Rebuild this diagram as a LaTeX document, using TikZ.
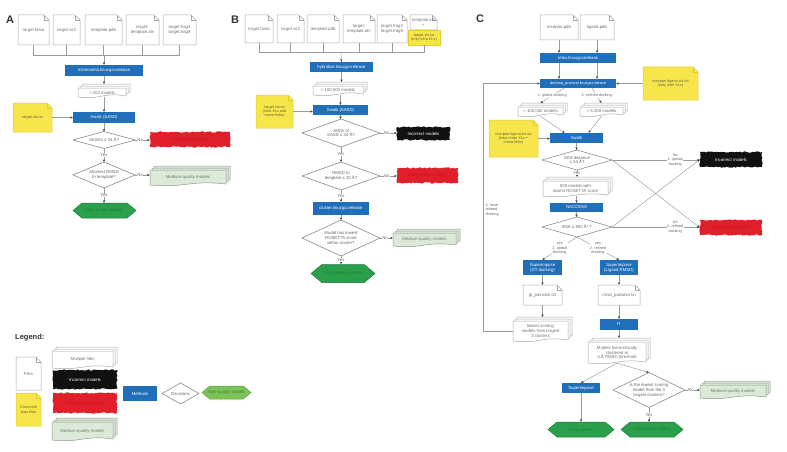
\documentclass[tikz,border=0pt]{standalone}
\usepackage{fontspec}
\setmainfont{Liberation Sans}
\usetikzlibrary{arrows.meta,decorations.pathmorphing,calc}
\definecolor{bluec}{HTML}{1F6FBA}
\definecolor{fileb}{HTML}{A8A8A8}
\definecolor{filet}{HTML}{707070}
\definecolor{yelc}{HTML}{F6E64C}
\definecolor{yelb}{HTML}{E2CC2A}
\definecolor{yelt}{HTML}{6B6230}
\definecolor{redc}{HTML}{E11F2A}
\definecolor{redt}{HTML}{C01822}
\definecolor{blackc}{HTML}{111111}
\definecolor{medc}{HTML}{DCE8D8}
\definecolor{medb}{HTML}{8E9C8A}
\definecolor{medt}{HTML}{6F7F6B}
\definecolor{hexc}{HTML}{2AA04C}
\definecolor{hexb}{HTML}{1B7A38}
\definecolor{hext}{HTML}{1E7E3A}
\definecolor{lhexc}{HTML}{7CC35A}
\definecolor{lhexb}{HTML}{5DA03E}
\definecolor{lhext}{HTML}{3F7F26}
\definecolor{decg}{HTML}{8A8A8A}
\definecolor{lineg}{HTML}{9A9A9A}
\definecolor{lblt}{HTML}{666666}
\definecolor{darkg}{HTML}{333333}
\newcommand{\fs}{\fontsize{4.3}{4.9}\selectfont}
\newcommand{\fss}{\fontsize{3.8}{4.3}\selectfont}
\tikzset{
  conn/.style={draw=lineg, line width=0.45pt},
  arr/.style={conn, -{Stealth[length=2.6pt,width=2.2pt,color=darkg]}},
  bluebox/.style={fill=bluec, text=white, inner sep=0, align=center, font=\fs},
  doctext/.style={inner sep=0, align=center, font=\fs, text=filet},
  yeltext/.style={inner sep=0, align=center, font=\fss, text=yelt},
  medtext/.style={inner sep=0, align=center, font=\fs, text=medt},
  dectext/.style={inner sep=0, align=center, font=\fs, text=lblt},
  hextext/.style={inner sep=0, align=center, font=\fs, text=hext},
  lbl/.style={inner sep=0.4pt, align=center, font=\fs, text=lblt},
  lbls/.style={inner sep=0.4pt, align=center, font=\fss, text=lblt},
  brush/.style={decorate, decoration={random steps, segment length=1.8pt, amplitude=0.7pt}, inner sep=0, align=center, font=\fs},
  plabel/.style={font=\fontsize{11}{11}\selectfont\bfseries, text=darkg, inner sep=0},
  yelbox/.style={fill=yelc, draw=yelb, line width=0.5pt, inner sep=0, align=center, font=\fss, text=yelt}
}
% name, cx, cy, w, h, fill, draw, textstyle, text
\newcommand{\FileDoc}[9]{%
  \draw[line width=0.5pt, fill=#6, draw=#7] ({#2-#4/2},{#3-#5/2}) -- ({#2+#4/2-5},{#3-#5/2}) -- ({#2+#4/2},{#3-#5/2+5}) -- ({#2+#4/2},{#3+#5/2}) -- ({#2-#4/2},{#3+#5/2}) -- cycle;
  \draw[line width=0.5pt, draw=#7] ({#2+#4/2-5},{#3-#5/2}) -- ({#2+#4/2-5},{#3-#5/2+5}) -- ({#2+#4/2},{#3-#5/2+5});
  \node[#8, minimum width=#4, minimum height=#5] (#1) at (#2,#3) {#9};
}
% name, x0, y0, x1, y1, fill, draw, textstyle, text
\newcommand{\MultiDoc}[9]{%
  \foreach \dd in {4,2,0}{%
    \draw[line width=0.5pt, fill=#6, draw=#7] ({#2+\dd},{#3+4-\dd}) -- ({#4-4+\dd},{#3+4-\dd}) -- ({#4-4+\dd},{#5-\dd-1}) .. controls ({(#2+#4-4)/2+\dd},{#5-\dd-5}) and ({(#2+#4-4)/2+\dd},{#5-\dd+3}) .. ({#2+\dd},{#5-\dd}) -- cycle;
  }
  \node[#8, minimum width={#4-4-#2}, minimum height={#5-#3-4}] (#1) at ({(#2+#4-4)/2},{(#3+4+#5)/2}) {#9};
  \coordinate (#1-n) at ({(#2+#4-4)/2},#3);
}
% name, cx, cy, w, h, fill, draw, text
\newcommand{\HexNode}[8]{%
  \draw[line width=0.5pt, fill=#6, draw=#7] ({#2-#4/2},#3) -- ({#2-#4/2+#5*0.6},{#3-#5/2}) -- ({#2+#4/2-#5*0.6},{#3-#5/2}) -- ({#2+#4/2},#3) -- ({#2+#4/2-#5*0.6},{#3+#5/2}) -- ({#2-#4/2+#5*0.6},{#3+#5/2}) -- cycle;
  \node[hextext, minimum width=#4, minimum height=#5] (#1) at (#2,#3) {#8};
}
% name, cx, cy, w, h, text
\newcommand{\Decision}[6]{%
  \draw[line width=0.6pt, draw=decg, fill=white] ({#2-#4/2},#3) -- (#2,{#3-#5/2}) -- ({#2+#4/2},#3) -- (#2,{#3+#5/2}) -- cycle;
  \node[dectext] (#1) at (#2,#3) {#6};
  \coordinate (#1-n) at (#2,{#3-#5/2});
  \coordinate (#1-s) at (#2,{#3+#5/2});
  \coordinate (#1-e) at ({#2+#4/2},#3);
  \coordinate (#1-w) at ({#2-#4/2},#3);
}
\begin{document}
\begin{tikzpicture}[x=1pt,y=-1pt]
\useasboundingbox[fill=white] (0,0) rectangle (787,452);
\pgfmathsetseed{7}
%================ Panel A
\node[plabel] (labA) at (10,20) {A};
\FileDoc{a1}{33.5}{30}{31}{30}{white}{fileb}{doctext}{target.fasta}
\FileDoc{a2}{66.5}{30}{27}{30}{white}{fileb}{doctext}{target.ss2}
\FileDoc{a3}{103.5}{30}{37}{30}{white}{fileb}{doctext}{template.pdb}
\FileDoc{a4}{142.5}{30}{33}{30}{white}{fileb}{doctext}{target-\\template.aln}
\FileDoc{a5}{179.5}{30}{33}{30}{white}{fileb}{doctext}{target.frag3\\target.frag9}
\coordinate (busA) at (104,55);
\node[bluebox, minimum width=78, minimum height=11] (mA) at (104,70.5) {minirosetta.linuxgccrelease};
\MultiDoc{mdA}{78}{84}{130}{97}{white}{fileb}{doctext}{> 200 models}
\node[bluebox, minimum width=62, minimum height=11] (xwA) at (104,117.5) {Xwalk (SASD)};
\FileDoc{yA}{32.5}{117.5}{39}{29}{yelc}{yelb}{yeltext}{target.xls.txt}
\Decision{dA1}{104}{140}{62}{17}{SASDs ≤ 34 Å?}
\node[brush, fill=redc, text=redt, minimum width=80, minimum height=15] (rA) at (190,139.5) {Low-quality models};
\Decision{dA2}{104}{175}{62}{26}{Shortest RMSD\\to template?}
\MultiDoc{mqA}{150}{166}{230}{185}{medc}{medb}{medtext}{Medium-quality models}
\HexNode{hA}{104.5}{210.5}{63}{15}{hexc}{hexb}{High-quality models}
\foreach \n in {a1,a2,a3,a4,a5} \draw[conn] (\n.south) |- (busA);
\draw[arr] (busA) -- (mA.north);
\draw[arr] (mA.south) -- (mA.south |- mdA-n);
\draw[arr] (xwA.north |- mdA.south) -- (xwA.north);
\draw[arr] (yA.east) -- (yA.east -| xwA.west);
\draw[arr] (xwA.south) -- (dA1-n);
\draw[arr] (dA1-e) -- node[lbl, fill=white, pos=0.35]{No} (dA1-e -| rA.west);
\draw[arr] (dA1-s) -- node[lbl, fill=white]{Yes} (dA2-n);
\draw[arr] (dA2-e) -- node[lbl, fill=white, pos=0.35]{No} (dA2-e -| mqA.west);
\draw[arr] (dA2-s) -- node[lbl, fill=white]{Yes} (dA2-s |- hA.north);
%================ Legend
\node[font=\fontsize{7.5}{8}\selectfont\bfseries, text=darkg, anchor=west, inner sep=0] (legT) at (15,338) {Legend:};
\FileDoc{lf}{28.5}{373.5}{25}{33}{white}{fileb}{doctext}{Files}
\FileDoc{ly}{28.5}{409.5}{25}{33}{yelc}{yelb}{yeltext}{Cross-link\\data files}
\MultiDoc{lm}{52}{347}{117}{368}{white}{fileb}{doctext}{Multiple files}
\node[brush, fill=blackc, text=white, minimum width=64, minimum height=19] (lb) at (85,379.5) {Incorrect models};
\node[brush, fill=redc, text=redt, minimum width=64, minimum height=20] (lr) at (85,403) {Low-quality models};
\MultiDoc{lmq}{52}{418}{117}{440}{medc}{medb}{medtext}{Medium-quality models}
\node[bluebox, minimum width=34, minimum height=15] (lmeth) at (140,393.5) {Methods};
\Decision{ldec}{180.5}{393.5}{37}{21}{Decisions}
\HexNode{lhex}{226.5}{392.5}{49}{13}{lhexc}{lhexb}{\textcolor{lhext}{High-quality models}}
%================ Panel B
\node[plabel] (labB) at (235,20) {B};
\FileDoc{b1}{259}{29}{28}{28}{white}{fileb}{doctext}{target.fasta}
\FileDoc{b2}{290.5}{29}{27}{28}{white}{fileb}{doctext}{target.ss2}
\FileDoc{b3}{323}{29}{32}{28}{white}{fileb}{doctext}{template.pdb}
\FileDoc{b4}{359}{29}{32}{28}{white}{fileb}{doctext}{target-\\template.aln}
\FileDoc{b5}{392}{29}{30}{28}{white}{fileb}{doctext}{target.frag3\\target.frag9}
\FileDoc{b6}{423.5}{22.5}{27}{15}{white}{fileb}{doctext}{template.xls\\+}
\node[yelbox, minimum width=32, minimum height=15] (b6x) at (424,37.5) {target.xls.txt\\(only intra XLs)};
\coordinate (busB) at (341,52);
\node[bluebox, minimum width=63, minimum height=10] (mB) at (341.5,67) {hybridize.linuxgccrelease};
\MultiDoc{mdB}{313}{82}{367}{95}{white}{fileb}{doctext}{> 100,000 models}
\FileDoc{yB}{274.5}{111.5}{37}{33}{yelc}{yelb}{yeltext}{target.xls.txt\\(intra XLs and\\mono-links)}
\node[bluebox, minimum width=55, minimum height=10] (xwB) at (340.5,110) {Xwalk (SASD)};
\Decision{dB1}{341}{133}{78}{28}{≥95\% of\\SASD ≤ 34 Å?}
\node[brush, fill=blackc, text=white, minimum width=53, minimum height=13] (kB) at (423.5,133.5) {Incorrect models};
\Decision{dB2}{341}{176}{78}{28}{RMSD to\\template ≤ 10 Å?}
\node[brush, fill=redc, text=redt, minimum width=61, minimum height=15] (rB) at (427.5,175.5) {Low-quality models};
\node[bluebox, minimum width=56, minimum height=13] (cB) at (341,208.5) {cluster.linuxgccrelease};
\Decision{dB3}{341}{238}{78}{36}{Model has lowest\\ROSETTA score\\within cluster?}
\MultiDoc{mqB}{393}{229}{460}{246}{medc}{medb}{medtext}{Medium-quality models}
\HexNode{hB}{343}{273.5}{64}{18}{hexc}{hexb}{High-quality models}
\foreach \n in {b1,b2,b3,b4,b5,b6x} \draw[conn] (\n.south) |- (busB);
\draw[arr] (busB) -- (mB.north);
\draw[arr] (mB.south) -- (mB.south |- mdB-n);
\draw[arr] (xwB.north |- mdB.south) -- (xwB.north);
\draw[arr] (yB.east) -- (yB.east -| xwB.west);
\draw[arr] (xwB.south) -- (xwB.south |- dB1-n);
\draw[arr] (dB1-e) -- node[lbl, fill=white, pos=0.4]{No} (dB1-e -| kB.west);
\draw[arr] (dB1-s) -- node[lbl, fill=white]{Yes} (dB2-n);
\draw[arr] (dB2-e) -- node[lbl, fill=white, pos=0.4]{No} (dB2-e -| rB.west);
\draw[arr] (dB2-s) -- node[lbl, fill=white]{Yes} (dB2-s |- cB.north);
\draw[arr] (cB.south) -- (cB.south |- dB3-n);
\draw[arr] (dB3-e) -- node[lbl, fill=white, pos=0.4]{No} (dB3-e -| mqB.west);
\draw[arr] (dB3-s) -- node[lbl, fill=white]{Yes} (dB3-s |- hB.north);
%================ Panel C
\node[plabel] (labC) at (480,19) {C};
\FileDoc{c1}{559}{27.5}{38}{25}{white}{fileb}{doctext}{receptor.pdb}
\FileDoc{c2}{597}{27.5}{34}{25}{white}{fileb}{doctext}{ligand.pdb}
\node[bluebox, minimum width=76, minimum height=10] (rlx) at (578,58) {relax.linuxgccrelease};
\node[bluebox, minimum width=76, minimum height=9, font=\fss] (dock) at (578,83.5) {docking\_protocol.linuxgccrelease};
\FileDoc{yC1}{670.5}{83.5}{55}{33}{yelc}{yelb}{yeltext}{receptor-ligand.xls.txt\\(only inter XLs)}
\MultiDoc{md1}{518}{103}{567}{116}{white}{fileb}{doctext}{> 100,000 models}
\MultiDoc{md2}{580}{103}{627}{116}{white}{fileb}{doctext}{> 5,000 models}
\node[bluebox, minimum width=53, minimum height=10] (xwC) at (576.5,138) {Xwalk};
\FileDoc{yC2}{513.5}{138.5}{49}{37}{yelc}{yelb}{yeltext}{receptor-ligand.xls.txt\\(intra+inter XLs +\\mono-links)}
\Decision{dC1}{577}{160}{70}{20}{SAS distance\\≤ 34 Å?}
\node[brush, fill=blackc, text=white, minimum width=62, minimum height=15] (kC) at (731,159.5) {Incorrect models};
\node[brush, fill=redc, text=redt, minimum width=62, minimum height=15] (rC) at (731,227.5) {Low-quality models};
\MultiDoc{m500}{543}{177}{612}{196}{white}{fileb}{doctext}{500 models with\\lowest ROSETTA score}
\node[bluebox, minimum width=53, minimum height=9] (nac) at (576.5,207.5) {NACCESS};
\Decision{dC2}{577}{227}{70}{20}{BSA ≥ 800 Å² ?}
\node[bluebox, minimum width=39, minimum height=15] (supL) at (542.5,267.5) {Superimpose\\(GT docking)};
\node[bluebox, minimum width=38, minimum height=15] (supR) at (619,267.5) {Superimpose\\(Ligand RMSD)};
\FileDoc{gL}{542.5}{295}{39}{20}{white}{fileb}{doctext}{gt\_pairwise.txt}
\FileDoc{gR}{619}{295}{42}{20}{white}{fileb}{doctext}{rmsd\_pairwise.txt}
\MultiDoc{mL}{513}{317}{572}{341}{white}{fileb}{doctext}{lowest scoring\\models from largest\\3 clusters}
\node[bluebox, minimum width=38, minimum height=11] (Rb) at (619,324.5) {R};
\MultiDoc{mC}{588}{338}{650}{363}{white}{fileb}{doctext}{Models hierarchically\\clustered at\\3 Å RMSD threshold}
\node[bluebox, minimum width=38, minimum height=10] (aug) at (581,388) {Superimpose};
\Decision{dC3}{649}{390}{72}{35}{Is the lowest scoring\\model from the 3\\largest clusters?}
\MultiDoc{mqC}{700}{381}{770}{398}{medc}{medb}{medtext}{Medium-quality models}
\HexNode{hC1}{581}{429.5}{66}{15}{hexc}{hexb}{Final models}
\HexNode{hC2}{652}{429.5}{62}{15}{hexc}{hexb}{High-quality models}
\draw[arr] (c1.south) -- (c1.south |- rlx.north);
\draw[arr] (c2.south) -- (c2.south |- rlx.north);
\draw[arr] (rlx.south -| c1.south) -- (dock.north -| c1.south);
\draw[arr] (rlx.south -| c2.south) -- (dock.north -| c2.south);
\draw[arr] (yC1.west) -- (yC1.west -| dock.east);
\draw[arr] ([xshift=-14pt]dock.south) -- node[lbls, fill=white]{1. global docking} (md1-n);
\draw[arr] ([xshift=14pt]dock.south) -- node[lbls, fill=white]{2. refined docking} (md2-n);
\draw[arr] (md1.south) -- ([xshift=-12pt]xwC.north);
\draw[arr] (md2.south) -- ([xshift=12pt]xwC.north);
\draw[arr] (yC2.east) -- (yC2.east -| xwC.west);
\draw[arr] (xwC.south) -- (xwC.south |- dC1-n);
\draw[arr] (dC1-e) -- (rC.west);
\draw[arr] (dC2-e) -- (kC.west);
\draw[arr] (dC1-e) -- node[lbls, fill=white, pos=0.72]{No\\1. global\\docking} (dC1-e -| kC.west);
\draw[arr] (dC1-s) -- node[lbl, fill=white]{Yes} (dC1-s |- m500-n);
\draw[arr] (nac.north |- m500.south) -- (nac.north);
\draw[arr] (nac.south) -- (nac.south |- dC2-n);
\draw[arr] (dC2-e) -- node[lbls, fill=white, pos=0.72]{No\\2. refined\\docking} (dC2-e -| rC.west);
\draw[arr] (dC2-s) -- node[lbls, fill=white]{yes\\1. global\\docking} (supL.north);
\draw[arr] (dC2-s) -- node[lbls, fill=white]{yes\\2. refined\\docking} (supR.north);
\draw[arr] (supL.south) -- (gL.north);
\draw[arr] (supR.south) -- (gR.north);
\draw[arr] (gL.south) -- (gL.south |- mL-n);
\draw[arr] (gR.south) -- (Rb.north);
\draw[arr] (Rb.south) -- (Rb.south |- mC-n);
\draw[arr] (mL.west) -- ++(-30,0) |- (dock.west);
\node[lbls, align=left, anchor=west] (fbl) at (485,210) {2. local\\refined\\docking};
\draw[arr] (mC.south) -- (aug.north);
\draw[arr] (mC.south) -- (dC3-n);
\draw[arr] (dC3-e) -- node[lbl, fill=white, pos=0.4]{No} (dC3-e -| mqC.west);
\draw[arr] (dC3-s) -- node[lbl, fill=white]{Yes} (dC3-s |- hC2.north);
\draw[arr] (aug.south) -- (aug.south |- hC1.north);
\end{tikzpicture}
\end{document}
